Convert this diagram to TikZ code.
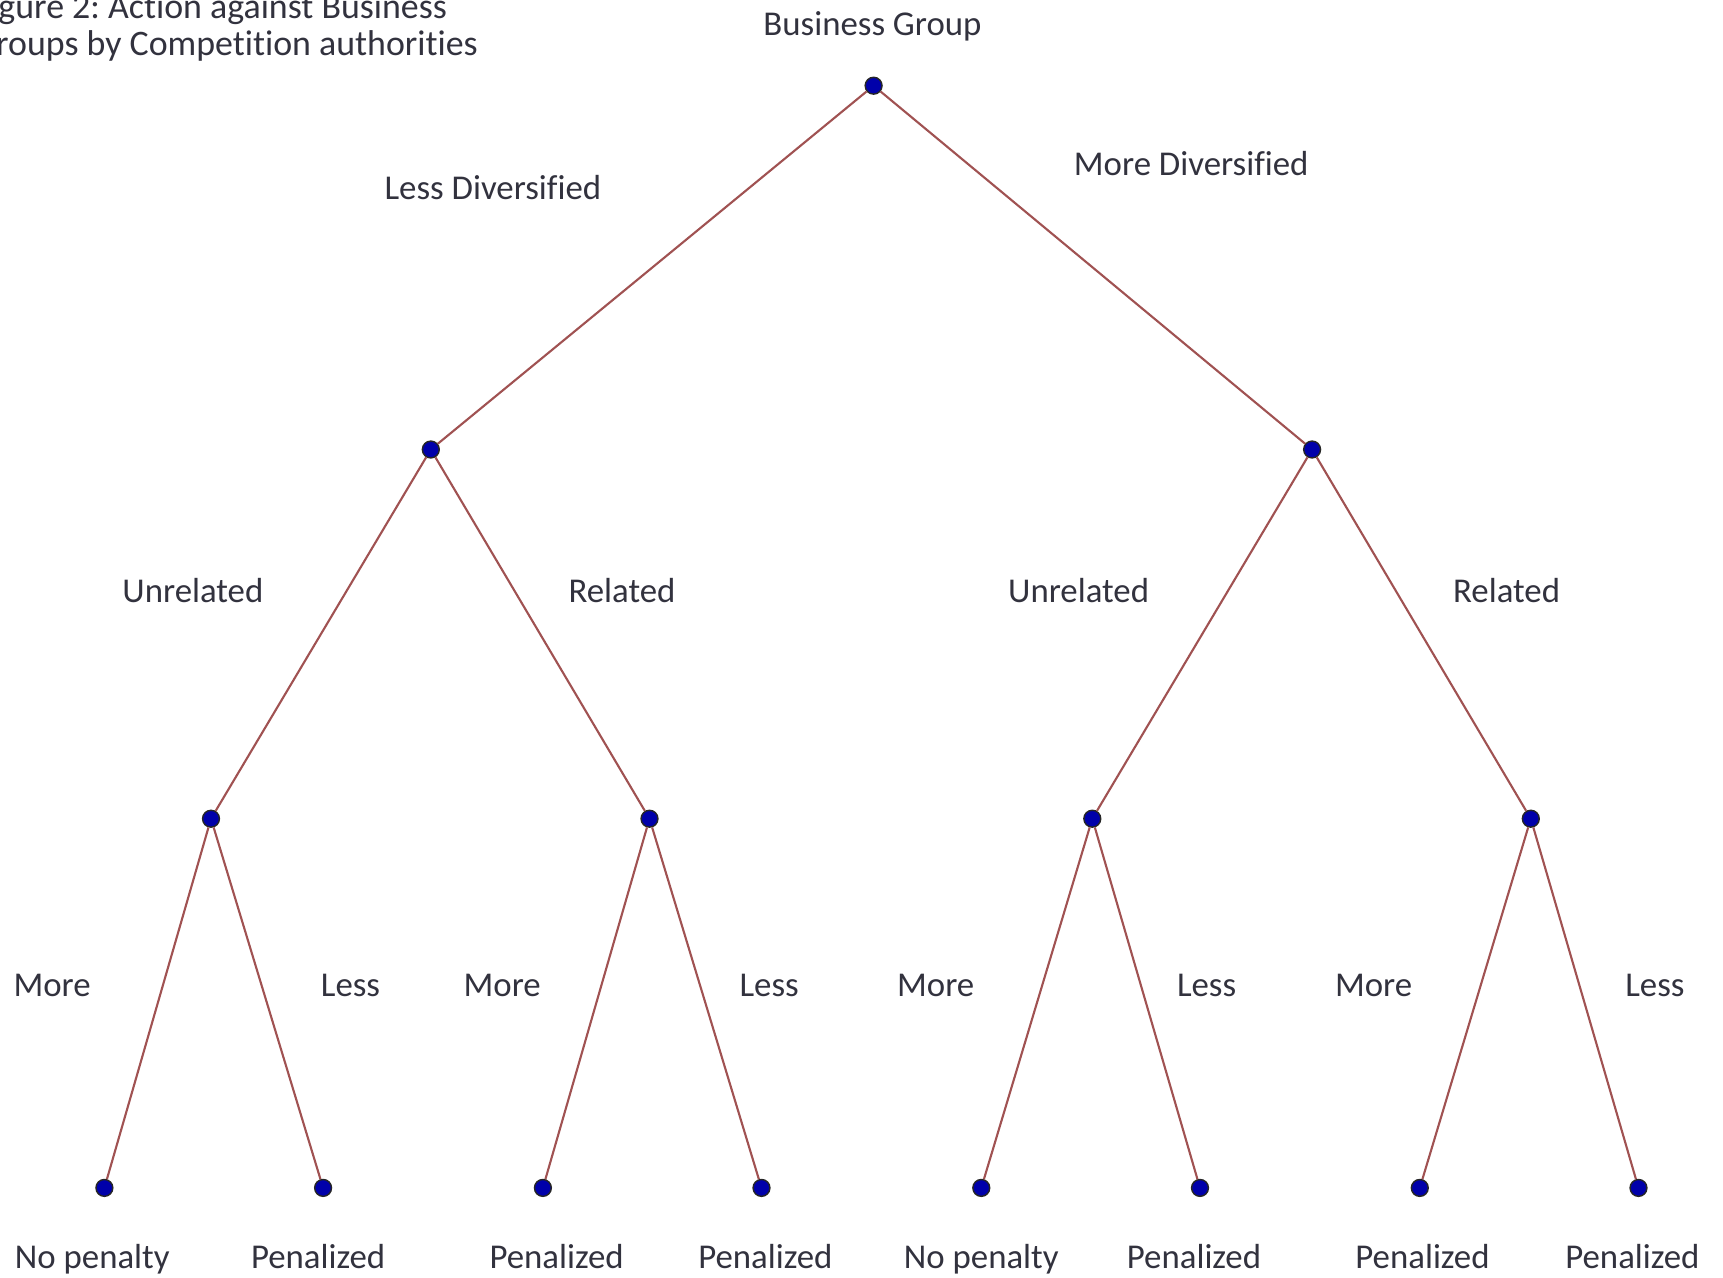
\documentclass[tikz,border=0pt]{standalone}
\usepackage{fontspec}
\setmainfont[RawFeature={-liga;-clig;-dlig;-calt}]{Carlito}
\definecolor{branchred}{RGB}{160,82,82}
\definecolor{dotblue}{RGB}{0,0,170}
\definecolor{labelgrey}{RGB}{50,50,62}
\frenchspacing

\begin{document}
\begin{tikzpicture}[x=0.01cm,y=-0.01cm,line width=0.6pt]
    \tikzstyle{vertex}=[circle,fill=dotblue,draw=black!85,line width=0.4pt,minimum size=4.8pt,inner sep=0pt]
    \tikzstyle{branch}=[draw=branchred]
    \tikzstyle{annot}=[text=labelgrey,font=\fontsize{9.9}{12}\selectfont,inner sep=0pt]
    \tikzstyle{caption}=[annot,font=\fontsize{10.2}{12}\selectfont,anchor=base east]

    \clip (0,0) rectangle (1723,1278);

    % Title, cut off by the page edge
    \node[caption] (title-1) at (448,18) {Figure 2: Action against Business};
    \node[caption] (title-2) at (479,55) {Groups by Competition authorities};

    % Draw the tree nodes
    \node[vertex] (R) at (873.6,85.7) {};
    \foreach \name / \xpos in {1/430.8,2/1312.1}
        \node[vertex] (A-\name) at (\xpos,449.5) {};
    \foreach \name / \xpos in {1/211.0,2/649.5,3/1092.3,4/1530.8}
        \node[vertex] (B-\name) at (\xpos,818.7) {};
    \foreach \name / \xpos in {1/104.4,2/323.1,3/542.9,4/761.5,5/981.3,6/1200.0,7/1419.8,8/1638.5}
        \node[vertex] (C-\name) at (\xpos,1187.9) {};

    % Connect every node with its children
    \foreach \dest in {1,2}
        \path[branch] (R) edge (A-\dest);
    \foreach \source / \dest in {1/1,1/2,2/3,2/4}
        \path[branch] (A-\source) edge (B-\dest);
    \foreach \source / \dest in {1/1,1/2,2/3,2/4,3/5,3/6,4/7,4/8}
        \path[branch] (B-\source) edge (C-\dest);

    % Annotate the branches
    \node[annot] (root-label) at (872.5,26.4) {Business Group};
    \node[annot] (less-div) at (492.9,187.9) {Less Diversified};
    \node[annot] (more-div) at (1191.2,163.7) {More Diversified};
    \foreach \name / \xpos / \txt in {1/192.9/Unrelated,2/622.0/Related,3/1078.6/Unrelated,4/1506.6/Related}
        \node[annot] (rel-\name) at (\xpos,590.1) {\txt};
    \foreach \name / \xpos / \txt in {1/52.2/More,2/350.5/Less,3/502.2/More,4/769.2/Less,5/935.7/More,6/1206.6/Less,7/1373.6/More,8/1654.9/Less}
        \node[annot] (size-\name) at (\xpos,985.7) {\txt};
    \foreach \name / \xpos / \txt in {1/92.3/No penalty,2/318.1/Penalized,3/556.6/Penalized,4/765.4/Penalized,5/981.3/No penalty,6/1194.0/Penalized,7/1422.5/Penalized,8/1632.4/Penalized}
        \node[annot,anchor=base] (out-\name) at (\xpos,1268) {\txt};
\end{tikzpicture}
\end{document}
